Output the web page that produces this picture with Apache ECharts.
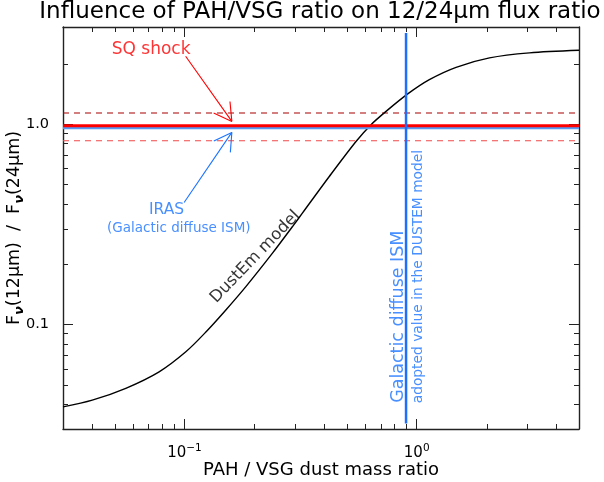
<!DOCTYPE html>
<html><head><meta charset="utf-8">
<script src="https://cdn.jsdelivr.net/npm/echarts@6/dist/echarts.min.js"></script>
<style>html,body{margin:0;padding:0;background:#fff}#c{width:604px;height:482px}</style>
</head><body><div id="c"></div>
<script>
// ---- data ----
const X_MIN = 0.03, X_MAX = 5;
const Y_MIN = 0.03, Y_MAX = 3.05;
const curveX = [0.030, 0.0401, 0.0559, 0.0778, 0.1014, 0.1237, 0.1508, 0.1839, 0.2394, 0.292, 0.3226, 0.4204, 0.548, 0.636, 0.738, 0.915, 1.134, 1.478, 2.058, 3.06, 5.0];
const curveY = [0.0387, 0.0418, 0.0479, 0.0579, 0.0729, 0.0915, 0.1179, 0.1542, 0.2265, 0.3076, 0.36, 0.547, 0.818, 0.992, 1.156, 1.413, 1.665, 1.919, 2.138, 2.265, 2.333];
const sqShockValue = 0.98;
const sqShockUpper = 1.135;
const sqShockLower = 0.825;
const irasValue = 0.955;
const galacticX = 0.9;
const galacticYSpan = [0.032, 2.85];
const xMinorTicks = [0.04,0.05,0.06,0.07,0.08,0.09,0.2,0.3,0.4,0.5,0.6,0.7,0.8,0.9,2,3,4];
const yMinorTicks = [0.04,0.05,0.06,0.07,0.08,0.09,0.2,0.3,0.4,0.5,0.6,0.7,0.8,0.9,2];
const xTickLabels = {'-1': '{b|10}{s|\u22121}', '0': '{b|10}{s|0}'};
const yTickLabels = {'-1': '0.1', '0': '1.0'};
// arrows: [startX, startY, tipX, tipY]
const redArrow = [0.1012, 2.178, 0.16, 1.03];
const blueArrow = [0.0997, 0.4055, 0.16, 0.908];
const annotations = [
  {text: 'SQ shock', pos: [0.0719, 2.35], color: '#ff0000', size: 17, rotate: 0},
  {text: 'IRAS', pos: [0.0838, 0.3728], color: '#1a73ff', size: 15.5, rotate: 0},
  {text: '(Galactic diffuse ISM)', pos: [0.0946, 0.302], color: '#1a73ff', size: 13.5, rotate: 0},
  {text: 'DustEm model', pos: [0.2017, 0.217], color: '#000000', size: 16.5, rotate: 46},
  {text: 'Galactic diffuse ISM', pos: [0.8364, 0.1091], color: '#1a73ff', size: 17.5, rotate: 90},
  {text: 'adopted value in the DUSTEM model', pos: [1.017, 0.173], color: '#1a73ff', size: 13.8, rotate: 90}
];

// ---- helpers ----
const FONT = 'DejaVu Sans';
const AX = '#222';
function expKey(v){ return String(Math.round(Math.log10(v)*1000)/1000); }
function hline(v){ return [[X_MIN, v], [X_MAX, v]]; }

const chart = echarts.init(document.getElementById('c'), null, {renderer: 'canvas'});

function tickSeries(values, isX){
  return {
    type: 'custom', coordinateSystem: 'cartesian2d', silent: true, clip: false, z: 5,
    data: values.map(v => isX ? [v, Y_MIN] : [X_MIN, v]),
    renderItem(params, api){
      const cs = params.coordSys;
      const p = api.coord([api.value(0), api.value(1)]);
      const st = {stroke: AX, lineWidth: 1};
      if (isX){
        const x = Math.round(p[0]) + 0.5, top = cs.y, bot = cs.y + cs.height;
        return {type: 'group', children: [
          {type: 'line', shape: {x1: x, y1: bot, x2: x, y2: bot - 5}, style: st},
          {type: 'line', shape: {x1: x, y1: top, x2: x, y2: top + 5}, style: st}
        ]};
      } else {
        const y = Math.round(p[1]) + 0.5, l = cs.x, r = cs.x + cs.width;
        return {type: 'group', children: [
          {type: 'line', shape: {x1: l, y1: y, x2: l + 5, y2: y}, style: st},
          {type: 'line', shape: {x1: r, y1: y, x2: r - 5, y2: y}, style: st}
        ]};
      }
    }
  };
}

function arrowSeries(arr, color){
  return {
    type: 'custom', coordinateSystem: 'cartesian2d', silent: true, clip: false, z: 6,
    data: [arr],
    renderItem(params, api){
      const a = api.coord([api.value(0), api.value(1)]);
      const b = api.coord([api.value(2), api.value(3)]);
      const ang = Math.atan2(a[1] - b[1], a[0] - b[0]);
      const L = 20, h = Math.PI / 6;
      const st = {stroke: color, lineWidth: 1.1, fill: null};
      const arm = s => ({type: 'line', shape: {x1: b[0], y1: b[1],
        x2: b[0] + L * Math.cos(ang + s * h), y2: b[1] + L * Math.sin(ang + s * h)}, style: st});
      return {type: 'group', children: [
        {type: 'line', shape: {x1: a[0], y1: a[1], x2: b[0], y2: b[1]}, style: st},
        arm(1), arm(-1)
      ]};
    }
  };
}

const baseAxis = {
  type: 'log', logBase: 10,
  axisLine: {show: true, onZero: false, lineStyle: {color: AX, width: 1.4}},
  axisTick: {show: true, inside: true, length: 10, lineStyle: {color: AX, width: 1}},
  splitLine: {show: false}, minorTick: {show: false}, minorSplitLine: {show: false}
};

const option = {
  animation: false,
  backgroundColor: '#ffffff',
  title: {
    text: 'Influence of PAH/VSG ratio on 12/24\u03bcm flux ratio',
    left: 320, top: 1, padding: 0, textAlign: 'center',
    textStyle: {fontFamily: FONT, fontSize: 23, fontWeight: 'normal', color: '#000'}
  },
  grid: {left: 63, top: 27, width: 516, height: 402, containLabel: false, outerBoundsMode: 'none'},
  xAxis: [
    Object.assign({}, baseAxis, {
      position: 'bottom', min: X_MIN, max: X_MAX,
      name: 'PAH / VSG dust mass ratio', nameLocation: 'middle', nameGap: 32, nameMoveOverlap: false,
      nameTextStyle: {fontFamily: FONT, fontSize: 18, color: '#000'},
      axisLabel: {
        show: true, margin: 14, color: '#000', fontFamily: FONT,
        formatter: v => xTickLabels[expKey(v)] || '',
        rich: {
          b: {fontSize: 15, lineHeight: 20, fontFamily: FONT, color: '#000'},
          s: {fontSize: 10.5, lineHeight: 12, verticalAlign: 'top', fontFamily: FONT, color: '#000'}
        }
      }
    }),
    Object.assign({}, baseAxis, {position: 'top', min: X_MIN, max: X_MAX, axisLabel: {show: false}})
  ],
  yAxis: [
    Object.assign({}, baseAxis, {
      position: 'left', min: Y_MIN, max: Y_MAX,
      name: '{t|F}{n|\u03bd}{t|(12\u03bcm)  /  F}{n|\u03bd}{t|(24\u03bcm)}',
      nameLocation: 'middle', nameGap: 37, nameMoveOverlap: false,
      nameTextStyle: {
        fontFamily: FONT, fontSize: 17.5, color: '#000',
        rich: {
          t: {fontFamily: FONT, fontSize: 17.5, lineHeight: 24, color: '#000'},
          n: {fontFamily: FONT, fontSize: 13, fontWeight: 'bold', fontStyle: 'italic', lineHeight: 16, verticalAlign: 'bottom', color: '#000'}
        }
      },
      axisLabel: {
        show: true, margin: 14, color: '#000', fontFamily: FONT, fontSize: 14.5,
        formatter: v => yTickLabels[expKey(v)] || ''
      }
    }),
    Object.assign({}, baseAxis, {position: 'right', min: Y_MIN, max: Y_MAX, axisLabel: {show: false}})
  ],
  series: [
    tickSeries(xMinorTicks, true),
    tickSeries(yMinorTicks, false),
    {type: 'line', name: 'upper', data: hline(sqShockUpper), showSymbol: false, symbol: 'none', silent: true,
     lineStyle: {color: '#a80000', width: 1.2, type: [6, 5]}, z: 2},
    {type: 'line', name: 'lower', data: hline(sqShockLower), showSymbol: false, symbol: 'none', silent: true,
     lineStyle: {color: '#f04848', width: 1.2, type: [6, 5]}, z: 2},
    {type: 'line', name: 'DustEm', data: curveX.map((x, i) => [x, curveY[i]]), showSymbol: false, symbol: 'none',
     smooth: 0.3, silent: true, lineStyle: {color: '#000', width: 1.4}, z: 3},
    {type: 'line', name: 'IRAS', data: hline(irasValue), showSymbol: false, symbol: 'none', silent: true,
     lineStyle: {color: '#5a9af0', width: 2.5}, z: 3},
    {type: 'line', name: 'SQ', data: hline(sqShockValue), showSymbol: false, symbol: 'none', silent: true,
     lineStyle: {color: '#ff0000', width: 3}, z: 4},
    {type: 'line', name: 'Galactic', data: [[galacticX, galacticYSpan[0]], [galacticX, galacticYSpan[1]]],
     showSymbol: false, symbol: 'none', silent: true, lineStyle: {color: '#1f6fff', width: 2.5}, z: 5},
    arrowSeries(redArrow, '#ff0000'),
    arrowSeries(blueArrow, '#1a73ff'),
    {type: 'scatter', name: 'labels', silent: true, symbolSize: 0, z: 6,
     itemStyle: {color: 'rgba(0,0,0,0)'},
     data: annotations.map(a => ({
       value: a.pos,
       label: {show: true, position: 'inside', formatter: a.text, rotate: a.rotate,
               color: a.color, fontSize: a.size, fontFamily: FONT, align: 'center', verticalAlign: 'middle'}
     }))}
  ]
};
chart.setOption(option);
</script>
</body></html>
